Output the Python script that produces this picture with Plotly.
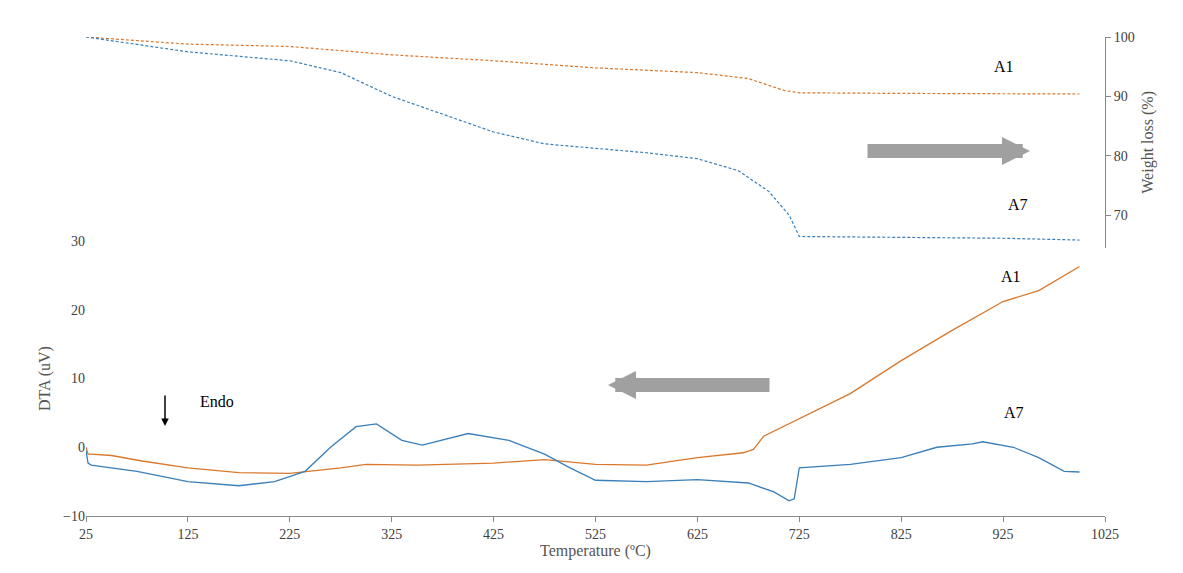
import plotly.graph_objects as go

# DTA curves (uV)
dta_a1_t = [25, 27, 30, 50, 80, 125, 175, 225, 275, 300, 350, 425, 475, 525, 575, 625, 670, 680, 690, 725, 775, 825, 875, 925, 960, 1000]
dta_a1_v = [0, -1, -1.0, -1.2, -2.0, -3.0, -3.7, -3.8, -3.0, -2.5, -2.6, -2.3, -1.8, -2.5, -2.6, -1.5, -0.8, -0.3, 1.6, 4.2, 7.8, 12.6, 17.0, 21.2, 22.8, 26.3]
dta_a7_t = [25, 27, 30, 75, 125, 175, 210, 240, 265, 290, 310, 335, 355, 385, 400, 440, 475, 500, 525, 575, 625, 675, 700, 715, 720, 725, 775, 825, 860, 895, 905, 935, 960, 985, 1000]
dta_a7_v = [-0.5, -2.3, -2.6, -3.5, -5.0, -5.6, -5.0, -3.5, 0, 3.0, 3.4, 1.0, 0.3, 1.5, 2.0, 1.0, -1.0, -3.0, -4.8, -5.0, -4.7, -5.2, -6.5, -7.8, -7.5, -3.0, -2.5, -1.5, 0, 0.5, 0.8, 0, -1.5, -3.5, -3.6]

# weight loss curves (%)
tg_a1_t = [25, 125, 225, 325, 425, 525, 625, 675, 710, 725, 825, 1000]
tg_a1_v = [100, 98.8, 98.4, 97, 96, 94.8, 94, 93, 91, 90.6, 90.5, 90.4]
tg_a7_t = [25, 125, 225, 275, 325, 375, 425, 475, 525, 575, 625, 665, 695, 715, 725, 825, 925, 1000]
tg_a7_v = [100, 97.5, 96, 94, 90, 87, 84, 82, 81.2, 80.5, 79.5, 77.5, 74, 70, 66.4, 66.3, 66.1, 65.8]

BLUE = "#3b7fb8"
ORANGE = "#d9782d"
FONT = "Liberation Serif"

fig = go.Figure()
fig.add_trace(go.Scatter(x=dta_a1_t, y=dta_a1_v, mode="lines", line=dict(color=ORANGE, width=1.3)))
fig.add_trace(go.Scatter(x=dta_a7_t, y=dta_a7_v, mode="lines", line=dict(color=BLUE, width=1.3)))
fig.add_trace(go.Scatter(x=tg_a1_t, y=tg_a1_v, mode="lines", yaxis="y2", line=dict(color=ORANGE, width=1.2, dash="3px,2px")))
fig.add_trace(go.Scatter(x=tg_a7_t, y=tg_a7_v, mode="lines", yaxis="y2", line=dict(color=BLUE, width=1.2, dash="3px,2px")))

ann = [
    dict(x=1008, y=48, text="A1"), dict(x=1022, y=196, text="A7"),
    dict(x=1015, y=268, text="A1"), dict(x=1018, y=415, text="A7"),
    dict(x=190, y=404, text="Endo"),
]
annotations = [dict(xref="paper", yref="paper", x=(a["x"] - 78) / 1019, y=(508 - a["y"]) / 479,
                    text=a["text"], showarrow=False, font=dict(family=FONT, size=16, color="black"))
               for a in ann]
# arrows (pixel offsets)
annotations += [
    dict(xref="paper", yref="paper", x=(1022 - 78) / 1019, y=(508 - 143) / 479, ax=-164, ay=0,
         text="", showarrow=True, arrowhead=2, arrowsize=0.4, arrowwidth=14, arrowcolor="#a0a0a0"),
    dict(xref="paper", yref="paper", x=(600 - 78) / 1019, y=(508 - 377) / 479, ax=163, ay=0,
         text="", showarrow=True, arrowhead=2, arrowsize=0.4, arrowwidth=14, arrowcolor="#a0a0a0"),
    dict(xref="paper", yref="paper", x=(157 - 78) / 1019, y=(508 - 418) / 479, ax=0, ay=-32,
         text="", showarrow=True, arrowhead=2, arrowsize=1, arrowwidth=1.5, arrowcolor="black"),
]

fig.update_layout(
    width=1183, height=573,
    margin=dict(l=78, r=86, t=29, b=65),
    paper_bgcolor="white", plot_bgcolor="white",
    showlegend=False,
    font=dict(family=FONT, size=14, color="#404040"),
    xaxis=dict(range=[25, 1025], tickvals=list(range(25, 1026, 100)), showgrid=False, zeroline=False,
               showline=True, linecolor="#888", ticks="outside", tickcolor="#888", automargin=False,
               title=dict(text="Temperature (ºC)", font=dict(size=16, color="#555"), standoff=2)),
    yaxis=dict(range=[-10, 30], domain=[0, 0.574], tickvals=[-10, 0, 10, 20, 30], showgrid=False,
               zeroline=False, showline=False, automargin=False,
               title=dict(text="DTA (uV)", font=dict(size=16, color="#555"), standoff=8)),
    yaxis2=dict(range=[64.5, 100], domain=[0.56, 1], tickvals=[70, 80, 90, 100], side="right",
                anchor="x", showgrid=False, zeroline=False, showline=True, linecolor="#888",
                ticks="outside", tickcolor="#888", automargin=False,
                title=dict(text="Weight loss (%)", font=dict(size=16, color="#555"), standoff=8)),
    annotations=annotations,
)

fig.write_html("out.html")
